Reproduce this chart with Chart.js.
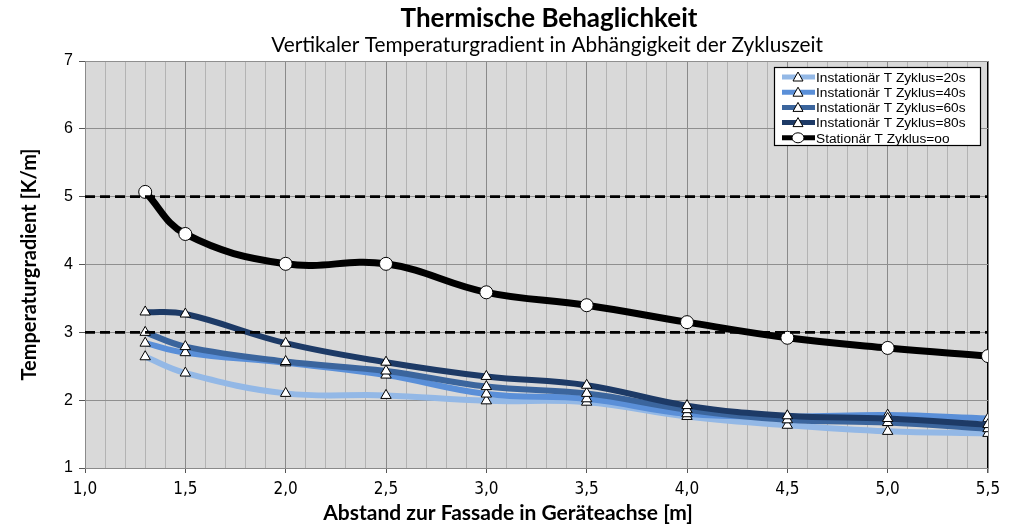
<!DOCTYPE html>
<html><head><meta charset="utf-8">
<script src="https://cdn.jsdelivr.net/npm/chart.js@4.4.1/dist/chart.umd.min.js"></script>
<style>html,body{margin:0;padding:0;background:#fff;}#wrap{width:1024px;height:528px;position:relative;}canvas{display:block;}</style>
</head><body><div id="wrap"><canvas id="c" width="1024" height="528"></canvas></div>
<script>
// ---- data ----
const xValues = [1.3, 1.5, 2.0, 2.5, 3.0, 3.5, 4.0, 4.5, 5.0, 5.5];
const inst20 = [2.64, 2.40, 2.10, 2.07, 1.99, 1.97, 1.76, 1.63, 1.54, 1.51];
const inst40 = [2.84, 2.70, 2.55, 2.37, 2.09, 2.02, 1.80, 1.76, 1.78, 1.73];
const inst60 = [3.00, 2.79, 2.57, 2.43, 2.20, 2.10, 1.86, 1.71, 1.67, 1.58];
const inst80 = [3.30, 3.27, 2.84, 2.56, 2.35, 2.22, 1.92, 1.77, 1.73, 1.64];
const stationaer = [5.07, 4.45, 4.01, 4.01, 3.59, 3.40, 3.15, 2.92, 2.77, 2.65];
const seriesNames = ['Instationär T Zyklus=20s', 'Instationär T Zyklus=40s', 'Instationär T Zyklus=60s', 'Instationär T Zyklus=80s', 'Stationär T Zyklus=oo'];
const referenceLevels = [5, 3];
const xRange = [1.0, 5.5];
const xTickLabels = ['1,0', '1,5', '2,0', '2,5', '3,0', '3,5', '4,0', '4,5', '5,0', '5,5'];
const yTickLabels = ['1', '2', '3', '4', '5', '6', '7'];
const titleText = 'Thermische Behaglichkeit';
const subtitleText = 'Vertikaler Temperaturgradient in Abhängigkeit der Zykluszeit';
const xTitle = 'Abstand zur Fassade in Geräteachse [m]';
const yTitle = 'Temperaturgradient [K/m]';

// ---- styles ----
const colors = ['#93b8e6', '#5a8fd8', '#3b659d', '#1d3a66', '#000000'];
const pts = (arr) => xValues.map((x, i) => ({x: x, y: arr[i]}));
const seriesData = [inst20, inst40, inst60, inst80, stationaer];

const datasets = [];
referenceLevels.forEach((lv) => {
  datasets.push({
    label: 'ref' + lv, data: [{x: xRange[0], y: lv}, {x: xRange[1], y: lv}],
    borderColor: '#000', borderWidth: 2.6, borderDash: [10, 5], pointRadius: 0,
    tension: 0, order: 0
  });
});
seriesData.forEach((arr, i) => {
  const isStat = i === 4;
  datasets.push({
    label: seriesNames[i], data: pts(arr),
    borderColor: colors[i], backgroundColor: '#fff',
    borderWidth: isStat ? 7 : 6,
    pointStyle: isStat ? 'circle' : 'triangle',
    pointRadius: isStat ? 6.5 : 6,
    pointBorderColor: '#000', pointBackgroundColor: '#fff', pointBorderWidth: 1,
    tension: 0.4, cubicInterpolationMode: 'default',
    order: isStat ? 1 : 5 - i
  });
});

// x-axis grid positions every 0.1
const xGrid = [];
for (let k = 0; k <= 45; k++) xGrid.push(Math.round((1 + k / 10) * 10) / 10);
const isMajor = (v) => Math.abs(v * 2 - Math.round(v * 2)) < 1e-6;

const bgPlugin = {
  id: 'bg',
  beforeDraw(chart) {
    const {ctx, chartArea: a} = chart;
    ctx.save();
    ctx.fillStyle = '#d9d9d9';
    ctx.fillRect(a.left, a.top, a.right - a.left, a.bottom - a.top);
    ctx.restore();
  }
};

const textPlugin = {
  id: 'texts',
  afterDraw(chart) {
    const {ctx} = chart;
    ctx.save();
    ctx.fillStyle = '#000';
    ctx.textAlign = 'center';
    ctx.textBaseline = 'middle';
    ctx.font = 'bold 26px Lato';
    ctx.fillText(titleText, 549, 19);
    ctx.font = '20.8px Lato';
    ctx.fillText(subtitleText, 547, 45);
    ctx.font = 'bold 21px Lato';
    ctx.fillText(xTitle, 508, 513);
    ctx.restore();
  }
};

const legendPlugin = {
  id: 'boxLegend',
  afterDraw(chart) {
    const {ctx} = chart;
    const bx = 774, by = 67, bw = 206, bh = 78;
    ctx.save();
    ctx.fillStyle = '#fff';
    ctx.fillRect(bx, by, bw, bh);
    ctx.strokeStyle = '#000';
    ctx.lineWidth = 1.2;
    ctx.strokeRect(bx + 0.5, by + 0.5, bw, bh);
    seriesNames.forEach((name, i) => {
      const y = by + 10 + i * 15.2;
      ctx.strokeStyle = colors[i];
      ctx.lineWidth = 5;
      ctx.beginPath(); ctx.moveTo(782, y); ctx.lineTo(815, y); ctx.stroke();
      ctx.fillStyle = '#fff'; ctx.strokeStyle = '#000'; ctx.lineWidth = 1;
      ctx.beginPath();
      if (i === 4) {
        ctx.ellipse(798, y, 6, 5, 0, 0, Math.PI * 2);
      } else {
        ctx.moveTo(798, y - 5); ctx.lineTo(803, y + 4); ctx.lineTo(793, y + 4); ctx.closePath();
      }
      ctx.fill(); ctx.stroke();
      ctx.fillStyle = '#000';
      ctx.font = '13.7px "Liberation Sans", Arial';
      ctx.textAlign = 'left'; ctx.textBaseline = 'middle';
      ctx.fillText(name, 816, y + 1);
    });
    ctx.restore();
  }
};

new Chart(document.getElementById('c'), {
  type: 'line',
  data: {datasets: datasets},
  plugins: [bgPlugin, textPlugin, legendPlugin],
  options: {
    responsive: false, animation: false, devicePixelRatio: 1,
    layout: {padding: {top: 61, right: 36, left: 0, bottom: 0}},
    plugins: {legend: {display: false}, tooltip: {enabled: false}, title: {display: false}},
    scales: {
      x: {
        type: 'linear', min: xRange[0], max: xRange[1],
        afterBuildTicks: (s) => { s.ticks = xGrid.map(v => ({value: v})); },
        afterFit: (s) => { s.height = 60; },
        ticks: {
          autoSkip: false, maxRotation: 0, padding: 6, color: '#000',
          font: {family: '"Liberation Sans Narrow", "DejaVu Sans Condensed", Arial', size: 17},
          callback: (v) => isMajor(v) ? xTickLabels[Math.round((v - 1) * 2)] : ''
        },
        grid: {
          color: (c) => { const v = c.tick && c.tick.value; if (v === undefined) return '#aaa'; if (Math.abs(v - 5.5) < 1e-6) return '#000'; return isMajor(v) ? '#8a8a8a' : '#b3b3b3'; },
          tickColor: (c) => (c.tick && isMajor(c.tick.value)) ? '#555' : 'rgba(0,0,0,0)',
          lineWidth: (c) => (c.tick && Math.abs(c.tick.value - 5.5) < 1e-6) ? 1.5 : 1,
          tickLength: 5
        },
        border: {display: true, color: '#8a8a8a'}
      },
      y: {
        min: 1, max: 7,
        afterFit: (s) => { s.width = 85; },
        ticks: {
          stepSize: 1, padding: 6, color: '#000',
          font: {family: '"Liberation Sans", Arial', size: 16},
          callback: (v) => yTickLabels[Math.round(v) - 1]
        },
        grid: {color: '#8f8f8f', tickLength: 6, tickColor: '#555'},
        border: {display: true, color: '#8a8a8a'},
        title: {display: true, text: yTitle, color: '#000', font: {family: 'Lato', size: 20, weight: 'bold'}, padding: {top: 18}}
      }
    }
  }
});
</script></body></html>
